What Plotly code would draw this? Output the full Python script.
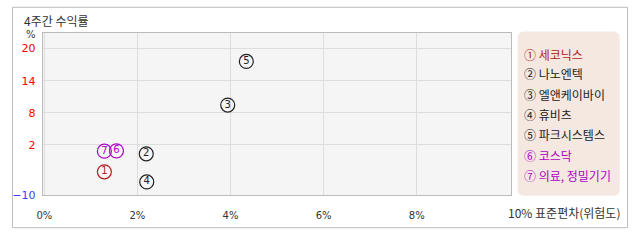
import plotly.graph_objects as go

W, H = 638, 242

names = ["세코닉스", "나노엔텍", "엘앤케이바이", "휴비츠", "파크시스템스", "코스닥", "의료,정밀기기"]
legend_labels = ["세코닉스", "나노엔텍", "엘앤케이바이", "휴비츠", "파크시스템스", "코스닥", "의료, 정밀기기"]
nums = ["1", "2", "3", "4", "5", "6", "7"]
circled = ["①", "②", "③", "④", "⑤", "⑥", "⑦"]
risk = [1.29, 2.19, 3.94, 2.20, 4.34, 1.55, 1.29]      # 표준편차 (%)
ret4w = [-3.0, 0.36, 9.45, -4.9, 17.6, 0.9, 0.84]      # 4주간 수익률 (%)
colors = ["#b01c1c", "#222222", "#222222", "#222222", "#222222", "#b000c8", "#b000c8"]

x_ticks = [0, 2, 4, 6, 8]
x_ticktext = ["0%", "2%", "4%", "6%", "8%"]
y_ticks = [-7.37, 2, 8, 14, 20]
y_ticktext = ["−10", "2", "8", "14", "20"]
y_tickcolors = ["#3b3bff", "#ff0000", "#ff0000", "#ff0000", "#ff0000"]

FONT = "Noto Sans CJK KR"

def px(x):
    return x / W

def py(y):
    return 1 - y / H

def rounded_rect(x0, y0, x1, y1, r):
    def P(x, y):
        return f"{px(x):.5f},{py(y):.5f}"
    d = (f"M {P(x0 + r, y0)} L {P(x1 - r, y0)} Q {P(x1, y0)} {P(x1, y0 + r)} "
         f"L {P(x1, y1 - r)} Q {P(x1, y1)} {P(x1 - r, y1)} "
         f"L {P(x0 + r, y1)} Q {P(x0, y1)} {P(x0, y1 - r)} "
         f"L {P(x0, y0 + r)} Q {P(x0, y0)} {P(x0 + r, y0)} Z")
    return d

fig = go.Figure()

fig.add_trace(go.Scatter(
    x=risk, y=ret4w, mode="markers+text",
    text=nums, textposition="middle center",
    textfont=dict(family="DejaVu Sans", size=10, color=colors),
    marker=dict(symbol="circle-open", size=14, color=colors, line=dict(width=1.2, color=colors)),
    hovertext=names, hoverinfo="text", showlegend=False, cliponaxis=False,
))

fig.update_layout(
    width=W, height=H,
    margin=dict(l=0, r=0, t=0, b=0),
    paper_bgcolor="white",
    plot_bgcolor="#f5f5f5",
    showlegend=False,
    font=dict(family=FONT, size=11, color="#333333"),
    xaxis=dict(
        domain=[px(37), px(510)], range=[-0.036, 10.03],
        tickvals=x_ticks, ticktext=x_ticktext,
        showgrid=True, gridcolor="#dddddd", gridwidth=1,
        zeroline=False, showline=True, linecolor="#bbbbbb", linewidth=1, mirror=True,
        ticks="", tickfont=dict(family="DejaVu Sans", size=10, color="#333333"),
        ticklabelstandoff=11, fixedrange=True,
    ),
    yaxis=dict(
        domain=[py(201), py(34)], range=[-7.37, 22.9],
        tickvals=y_ticks,
        ticktext=[f"<span style='color:{c}'>{t}</span>" for t, c in zip(y_ticktext, y_tickcolors)],
        showgrid=True, gridcolor="#dddddd", gridwidth=1,
        zeroline=False, showline=True, linecolor="#bbbbbb", linewidth=1, mirror=True,
        ticks="", tickfont=dict(family="DejaVu Sans", size=11, color="#ff0000"),
        ticklabelstandoff=4, fixedrange=True,
    ),
)

shapes = [
    dict(type="rect", xref="paper", yref="paper", x0=px(6.5), x1=px(627.5), y0=py(234.5), y1=py(7.5),
         line=dict(color="#bbbbbb", width=1), fillcolor="rgba(0,0,0,0)", layer="below"),
    dict(type="path", xref="paper", yref="paper", path=rounded_rect(517, 33, 619, 201, 6),
         line=dict(color="#f5e8e0", width=1), fillcolor="#f5e8e0", layer="below"),
]
fig.update_layout(shapes=shapes)

ann = [
    dict(text="4주간 수익률", xref="paper", yref="paper", x=px(16), y=py(21),
         xanchor="left", yanchor="middle", showarrow=False,
         font=dict(family=FONT, size=12, color="#333333")),
    dict(text="%", xref="paper", yref="paper", x=px(25), y=py(36),
         xanchor="center", yanchor="middle", showarrow=False,
         font=dict(family="DejaVu Sans", size=10, color="#333333")),
    dict(text="10% 표준편차(위험도)", xref="x", yref="paper", x=10, y=py(219),
         xanchor="left", yanchor="middle", xshift=-4, showarrow=False,
         font=dict(family=FONT, size=12, color="#333333")),
]
legend_y = [56, 76, 97, 118, 139, 160, 181]
for c, lab, col, yy in zip(circled, legend_labels, colors, legend_y):
    ann.append(dict(text=f"{c} {lab}", xref="paper", yref="paper", x=px(521), y=py(yy),
                    xanchor="left", yanchor="middle", showarrow=False,
                    font=dict(family=FONT, size=12, color=col)))
fig.update_layout(annotations=ann)

fig.write_html("out.html")
